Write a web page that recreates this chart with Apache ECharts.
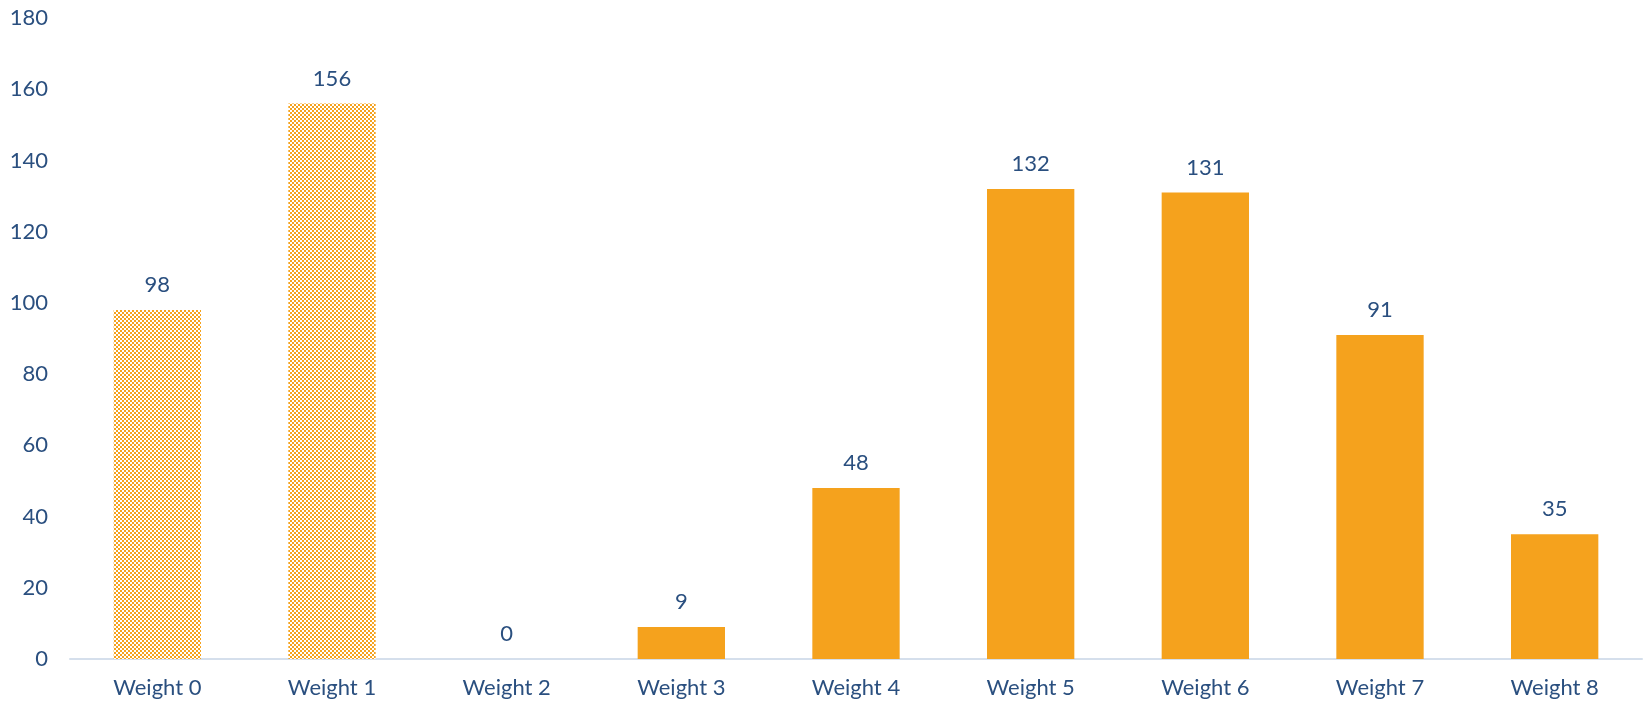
<!DOCTYPE html>
<html><head><meta charset="utf-8">
<script src="https://cdn.jsdelivr.net/npm/echarts@6/dist/echarts.min.js"></script>
<style>html,body{margin:0;padding:0;background:#fff}#c{width:1646px;height:704px}</style>
</head><body><div id="c"></div>
<script>
const categories = ['Weight 0','Weight 1','Weight 2','Weight 3','Weight 4','Weight 5','Weight 6','Weight 7','Weight 8'];
const values = [98,156,0,9,48,132,131,91,35];
const patterned = [true,true,false,false,false,false,false,false,false];
const yTicks = {min:0,max:180,interval:20};

const ORANGE = '#F5A21D';
const TEXT = '#2A4F7F';

function makePattern(){
  const c = document.createElement('canvas');
  c.width = 4; c.height = 4;
  const g = c.getContext('2d');
  g.fillStyle = ORANGE; g.fillRect(0,0,4,4);
  g.fillStyle = '#ffffff';
  g.fillRect(0,0,2,2);
  g.fillRect(2,2,2,2);
  return c;
}
const pat = makePattern();

const chart = echarts.init(document.getElementById('c'));
const font = 'Lato, "Open Sans", sans-serif';
chart.setOption({
  animation:false,
  grid:{left:70,right:4,top:18,bottom:45},
  xAxis:{type:'category',data:categories,
    axisLine:{lineStyle:{color:'#D5DFEC',width:2}},
    axisTick:{show:false},
    axisLabel:{color:TEXT,fontSize:22,fontFamily:font,margin:18}},
  yAxis:{type:'value',min:yTicks.min,max:yTicks.max,interval:yTicks.interval,
    splitLine:{show:false},axisLine:{show:false},axisTick:{show:false},
    axisLabel:{color:TEXT,fontSize:22,fontFamily:font,margin:22}},
  series:[{type:'bar',barWidth:'50%',
    data:values.map((v,i)=>({value:v,itemStyle:{color: patterned[i] ? {image:pat,repeat:'repeat'} : ORANGE}})),
    label:{show:true,position:'top',distance:14,color:TEXT,fontSize:22,fontFamily:font}
  }]
});
</script></body></html>
